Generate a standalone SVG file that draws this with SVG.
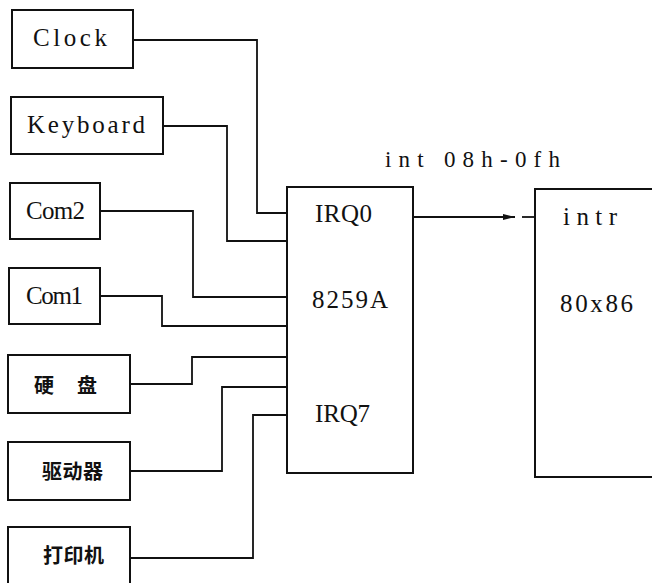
<svg xmlns="http://www.w3.org/2000/svg" width="652" height="583" viewBox="0 0 652 583">
<style>
.box{fill:none;stroke:#111;stroke-width:2}
.w{fill:none;stroke:#111;stroke-width:1.8}
.t{font-family:"Liberation Serif",serif;font-size:25px;fill:#111}
.s{font-family:"Liberation Serif",serif;font-size:23px;fill:#111}
.c{font-family:"Noto Sans CJK SC",sans-serif;font-size:20px;font-weight:bold;fill:#111}
</style>
<defs>
<marker id="ah" markerWidth="12" markerHeight="8" refX="12" refY="4" orient="auto" markerUnits="userSpaceOnUse">
<path d="M0,1 L12,4 L0,7 Z" fill="#111"/>
</marker>
</defs>
<rect width="652" height="583" fill="#fff"/>
<g id="clock"><rect class="box" x="12" y="10" width="121" height="58"/><text class="t" x="33" y="46" textLength="74" lengthAdjust="spacing">Clock</text></g>
<g id="keyboard"><rect class="box" x="11" y="97" width="152" height="57"/><text class="t" x="27" y="133" textLength="118" lengthAdjust="spacing">Keyboard</text></g>
<g id="com2"><rect class="box" x="10" y="183" width="90" height="56"/><text class="t" x="26" y="219" textLength="59" lengthAdjust="spacing">Com2</text></g>
<g id="com1"><rect class="box" x="9" y="268" width="91" height="56"/><text class="t" x="26" y="304" textLength="57" lengthAdjust="spacing">Com1</text></g>
<g id="harddisk"><rect class="box" x="8" y="355" width="122" height="58"/><text class="c" x="34" y="393">硬</text><text class="c" x="77" y="393">盘</text></g>
<g id="drive"><rect class="box" x="8" y="442" width="122" height="58"/><text class="c" x="42" y="479" textLength="61" lengthAdjust="spacing">驱动器</text></g>
<g id="printer"><rect class="box" x="8" y="527" width="122" height="70"/><text class="c" x="43" y="563" textLength="61" lengthAdjust="spacing">打印机</text></g>
<g id="pic"><rect class="box" x="287" y="187" width="126" height="286"/>
<text class="t" x="315" y="222" textLength="57" lengthAdjust="spacing">IRQ0</text>
<text class="t" x="312" y="308" textLength="76" lengthAdjust="spacing">8259A</text>
<text class="t" x="315" y="422" textLength="55" lengthAdjust="spacing">IRQ7</text></g>
<g id="cpu"><path class="box" d="M700,189 H535 V477 H700"/>
<text class="t" x="563" y="225" textLength="54" lengthAdjust="spacing">intr</text>
<text class="t" x="560" y="312" textLength="73" lengthAdjust="spacing">80x86</text></g>
<g id="connectors">
<path class="w" d="M413,217 H515" marker-end="url(#ah)"/>
<path class="w" d="M522,217 H535"/>
<path class="w" d="M133,40 H257 V213 H287"/>
<path class="w" d="M163,126 H227 V241 H287"/>
<path class="w" d="M100,211 H193 V297 H287"/>
<path class="w" d="M100,296 H162 V326 H287"/>
<path class="w" d="M130,384 H192 V357 H287"/>
<path class="w" d="M130,471 H222 V387 H287"/>
<path class="w" d="M130,558 H253 V415 H287"/>
<text class="s" x="385" y="167" textLength="175" lengthAdjust="spacing">int 08h-0fh</text>
</g>
</svg>
